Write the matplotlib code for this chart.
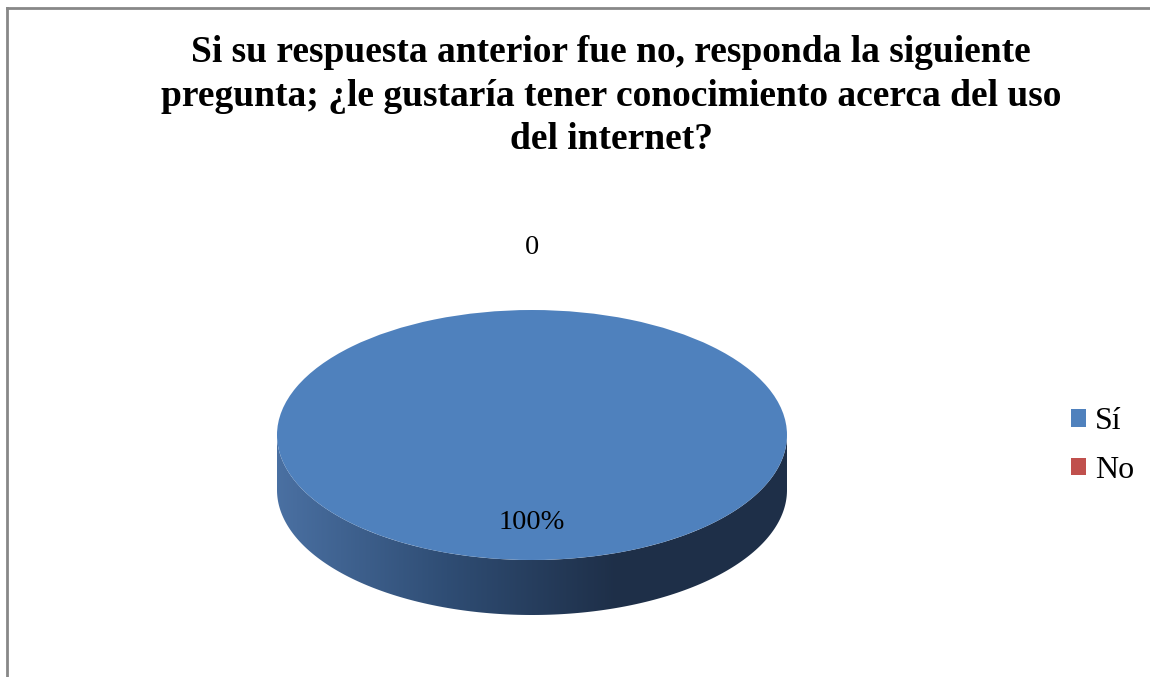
import numpy as np
import matplotlib.pyplot as plt
from matplotlib.colors import LinearSegmentedColormap
from matplotlib.patches import Polygon

plt.rcParams['font.family'] = ['Liberation Serif', 'DejaVu Serif']

titulo = "Si su respuesta anterior fue no, responda la siguiente\npregunta; ¿le gustaría tener conocimiento acerca del uso\ndel internet?"
categorias = ["Sí", "No"]
valores = [100, 0]
etiquetas = ["100%", "0"]
colores = ["#4f81bd", "#c0504d"]

W, H = 1150, 677
fig = plt.figure(figsize=(W / 100, H / 100), dpi=100)

# borde del grafico (solo arriba e izquierda se ven)
borde = fig.add_axes([0, 0, 1, 1])
borde.set_xlim(0, W)
borde.set_ylim(H, 0)
borde.axis('off')
borde.plot([7, W], [8, 8], color='#888888', lw=2)
borde.plot([7, 7], [8, H], color='#888888', lw=2)

fig.text(611 / W, 1 - 96 / H, titulo, ha='center', va='center',
         fontsize=27, fontweight='bold', linespacing=1.3)

# ejes del pastel: 1 unidad = 255 px en x, 125 px en y (elipse)
cx, cy, a, b = 532, 435, 255, 125
pax = fig.add_axes([0, 0, 1, 1])

prof = 0.44
th = np.linspace(np.pi, 2 * np.pi, 200)
xs = np.concatenate([np.cos(th), np.cos(th[::-1])])
ys = np.concatenate([np.sin(th), np.sin(th[::-1]) - prof])
lado = Polygon(np.column_stack([xs, ys]), closed=True, facecolor='none', edgecolor='none')
pax.add_patch(lado)
cmap = LinearSegmentedColormap.from_list('lado', ['#4a70a2', '#2f4d74', '#1e2f48', '#1f3049'])
grad = pax.imshow(np.linspace(0, 1, 256).reshape(1, -1), cmap=cmap, aspect='auto',
                  extent=(-1, 1, -1 - prof, 0), zorder=1)
grad.set_clip_path(lado)

wedges, _ = pax.pie(valores, colors=colores, startangle=90, counterclock=False,
                    radius=1, center=(0, 0), wedgeprops=dict(linewidth=0), frame=True)
for w in wedges:
    w.set_zorder(2)
pax.axis('off')
pax.set_xlim(-cx / a, (W - cx) / a)
pax.set_ylim(-(H - cy) / b, cy / b)
pax.set_aspect('auto')

for w, v, txt in zip(wedges, valores, etiquetas):
    ang = np.deg2rad((w.theta1 + w.theta2) / 2)
    r = 0.7 if v > 0 else 1.5
    pax.text(r * np.cos(ang), r * np.sin(ang), txt, ha='center', va='center',
             fontsize=20.5, zorder=3)

pax.legend(wedges, categorias, loc='center left', bbox_to_anchor=(1071 / W, 1 - 446 / H),
           bbox_transform=fig.transFigure, frameon=False, fontsize=23, borderpad=0,
           handlelength=0.47, handleheight=0.47, handletextpad=0.28, labelspacing=0.62,
           borderaxespad=0)

fig.savefig('out.png', dpi=100)
